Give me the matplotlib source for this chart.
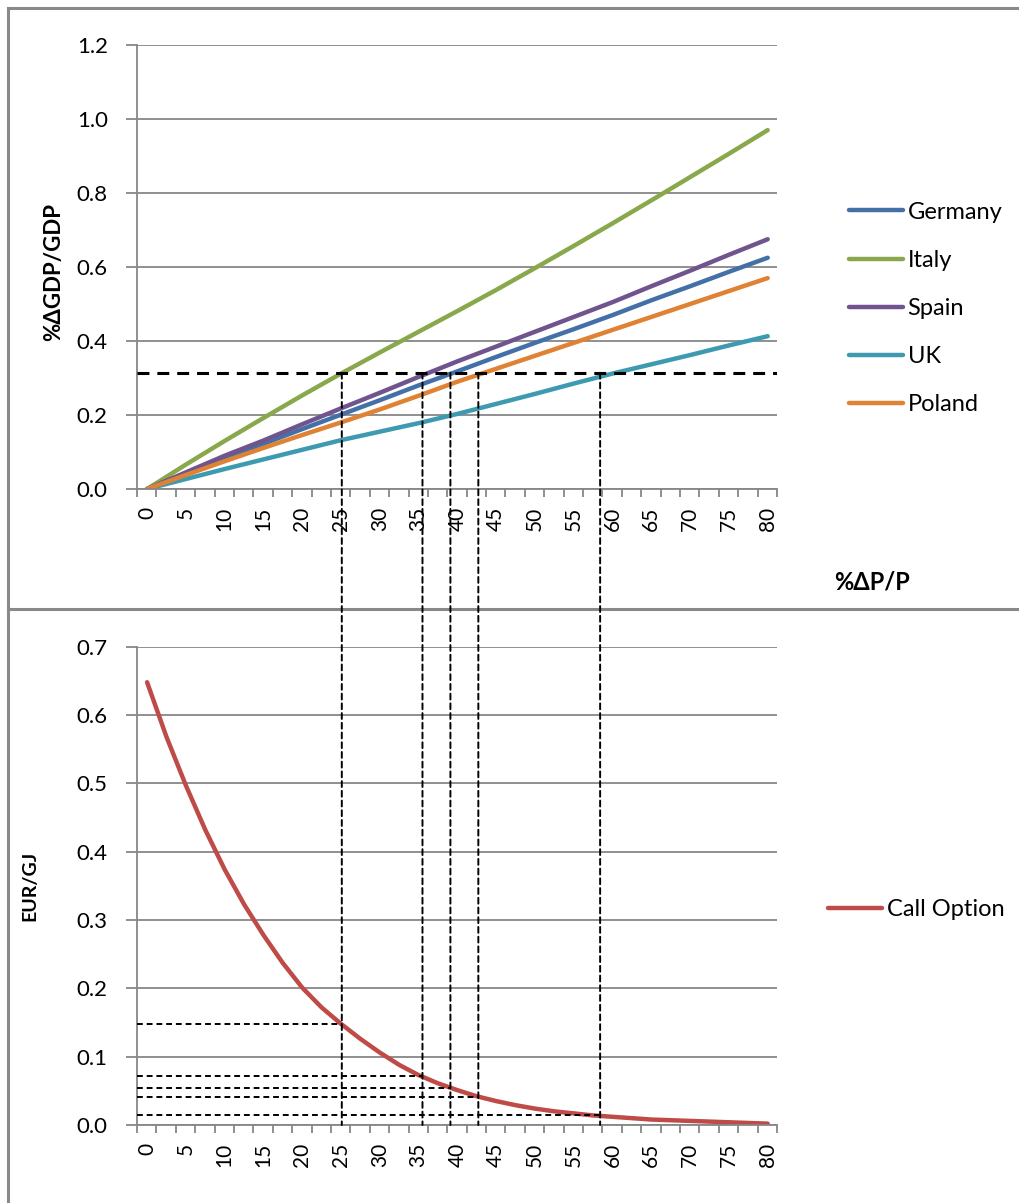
import matplotlib
matplotlib.use('Agg')
import matplotlib.pyplot as plt
from matplotlib.patches import ConnectionPatch
from matplotlib.lines import Line2D
import numpy as np

plt.rcParams['font.family'] = ['Lato', 'DejaVu Sans']

# ---------------- data ----------------
price_change = [0, 5, 10, 15, 20, 25, 30, 35, 40, 45, 50, 55, 60, 65, 70, 75, 80]
germany = [0, 0.042, 0.083, 0.122, 0.162, 0.201, 0.240, 0.280, 0.318, 0.357, 0.395, 0.432, 0.470, 0.510, 0.548, 0.587, 0.625]
italy = [0, 0.066, 0.130, 0.192, 0.253, 0.312, 0.369, 0.425, 0.481, 0.538, 0.597, 0.657, 0.718, 0.780, 0.843, 0.906, 0.970]
spain = [0, 0.045, 0.090, 0.131, 0.175, 0.218, 0.260, 0.303, 0.345, 0.385, 0.425, 0.465, 0.505, 0.548, 0.590, 0.633, 0.675]
uk = [0, 0.027, 0.054, 0.080, 0.106, 0.132, 0.155, 0.178, 0.203, 0.230, 0.257, 0.285, 0.312, 0.337, 0.362, 0.388, 0.413]
poland = [0, 0.038, 0.075, 0.111, 0.146, 0.180, 0.215, 0.252, 0.290, 0.325, 0.360, 0.395, 0.430, 0.465, 0.500, 0.535, 0.570]

option_x = [0, 2.5, 5, 7.5, 10, 12.5, 15, 17.5, 20, 22.5, 25, 27.5, 30, 32.5, 35, 37.5,
            40, 42.5, 45, 47.5, 50, 52.5, 55, 57.5, 60, 62.5, 65, 67.5, 70, 72.5, 75, 77.5, 80]
call_option = [0.648, 0.568, 0.497, 0.432, 0.374, 0.323, 0.278, 0.237, 0.201, 0.172, 0.148,
               0.126, 0.106, 0.088, 0.073, 0.061, 0.051, 0.042, 0.035, 0.029, 0.024, 0.020,
               0.017, 0.014, 0.012, 0.010, 0.008, 0.007, 0.006, 0.005, 0.004, 0.003, 0.002]

threshold = 0.314
cross_x = [25.1, 35.5, 39.1, 42.7, 58.4]
cross_option = [0.148, 0.071, 0.054, 0.041, 0.014]

x_labels = [str(v) for v in range(0, 81, 5)]
series_names = ['Germany', 'Italy', 'Spain', 'UK', 'Poland']
series_colors = ['#4470A8', '#88A84B', '#70548E', '#3E9AB0', '#E08234']
option_color = '#BE4B48'
gray = '#878787'

# ---------------- figure ----------------
W, H = 1019, 1203
fig = plt.figure(figsize=(W / 100, H / 100), dpi=100)


def fx(px):
    return px / W


def fy(py):
    return 1 - py / H


ax1 = fig.add_axes([fx(137), fy(489), fx(777) - fx(137), fy(45) - fy(489)])
ax2 = fig.add_axes([fx(137), fy(1125), fx(777) - fx(137), fy(646.7) - fy(1125)])


def style(ax, ymax, ystep):
    ax.set_xlim(-1.3, 81.2)
    ax.set_ylim(0, ymax)
    yt = np.round(np.arange(0, ymax + 1e-9, ystep), 2)
    ax.set_yticks(yt)
    ax.set_yticklabels([f'{v:.1f}' for v in yt])
    ax.set_xticks(range(0, 81, 5))
    ax.set_xticklabels(x_labels)
    ax.tick_params(axis='x', which='major', length=0, pad=13, labelrotation=90, labelsize=15)
    ax.set_xticks(np.arange(-1.3, 81.3, 2.5), minor=True)
    ax.tick_params(axis='x', which='minor', length=6, width=1.3, color=gray, direction='out')
    ax.tick_params(axis='y', length=8, width=1.3, color=gray, pad=13, labelsize=16)
    for s in ['top', 'right']:
        ax.spines[s].set_visible(False)
    for s in ['left', 'bottom']:
        ax.spines[s].set_color(gray)
        ax.spines[s].set_linewidth(1.3)
    ax.grid(axis='y', color=gray, lw=1.3)
    ax.set_axisbelow(True)


style(ax1, 1.2, 0.2)
style(ax2, 0.7, 0.1)

series = [germany, italy, spain, uk, poland]
for vals, name, col in zip(series, series_names, series_colors):
    ax1.plot(price_change, vals, color=col, lw=3.2, label=name, solid_capstyle='round')

ax2.plot(option_x, call_option, color=option_color, lw=3.2, label='Call Option',
         solid_capstyle='round')

# dashed guides
ax1.axhline(threshold, color='black', lw=2.2, linestyle=(0, (3.9, 2.6)), zorder=5)
for xv, ov in zip(cross_x, cross_option):
    ax2.plot([-1.3, xv], [ov, ov], color='black', lw=1.4, linestyle=(0, (3, 2)), zorder=5,
             clip_on=False)
    cp = ConnectionPatch(xyA=(xv, threshold), coordsA=ax1.transData,
                         xyB=(xv, 0), coordsB=ax2.transData,
                         color='black', lw=1.4, linestyle=(0, (3, 2)), zorder=6)
    fig.add_artist(cp)

# legends
ax1.legend(loc='center left', bbox_to_anchor=(fx(849), fy(308.5)),
           bbox_transform=fig.transFigure, frameon=False, fontsize=17,
           handlelength=2.3, handletextpad=0.18, labelspacing=1.15,
           borderpad=0, borderaxespad=0)
ax2.legend(loc='center left', bbox_to_anchor=(fx(828), fy(910)),
           bbox_transform=fig.transFigure, frameon=False, fontsize=17,
           handlelength=2.3, handletextpad=0.18, borderpad=0, borderaxespad=0)

# axis titles
fig.text(fx(54), fy(272), '%ΔGDP/GDP', rotation=90, ha='center', va='center',
         fontsize=16, fontweight='bold')
fig.text(fx(872), fy(582), '%ΔP/P', ha='center', va='center', fontsize=17, fontweight='bold')
fig.text(fx(30), fy(886), 'EUR/GJ', rotation=90, ha='center', va='center',
         fontsize=14, fontweight='bold')

# chart borders
border = dict(transform=fig.transFigure, color='#898989', lw=2.2)
fig.add_artist(Line2D([fx(8), fx(8)], [fy(8), 0], **border))
fig.add_artist(Line2D([fx(8), 1], [fy(8), fy(8)], **border))
fig.add_artist(Line2D([fx(8), 1], [fy(609), fy(609)], **border))

fig.savefig('out.png', dpi=100)
